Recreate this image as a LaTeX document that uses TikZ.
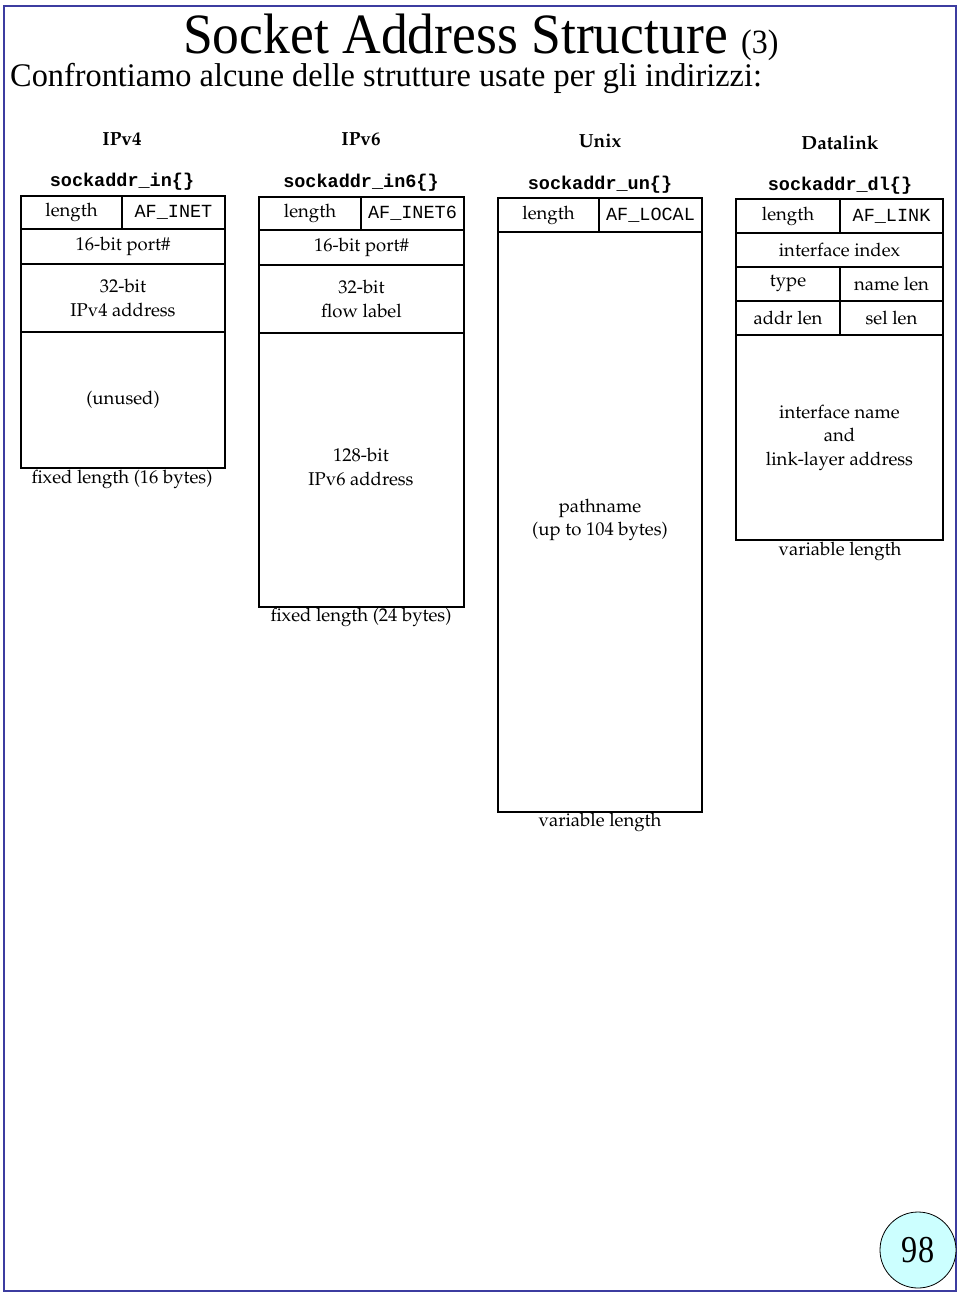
\documentclass[tikz,border=0pt]{standalone}
\usepackage[T1]{fontenc}
\usepackage{fontspec}
\setmainfont{Liberation Serif}
\newfontfamily\courfont{Liberation Mono}
\usepackage{graphicx}
\newcommand\palfont{\fontencoding{T1}\fontfamily{ppl}\selectfont}
\definecolor{framecol}{RGB}{60,60,160}
\definecolor{pagecirc}{RGB}{204,255,255}
\newcommand\mkcell[6]{%
  \pgfmathsetmacro\cellw{#4-#2}\pgfmathsetmacro\cellh{#5-#3}%
  \node[cell, minimum width=\cellw pt, minimum height=\cellh pt] (#1) at ({(#2+#4)/2},{(#3+#5)/2}) {#6};}
\begin{document}
\begin{tikzpicture}[x=1pt,y=-1pt,
  cell/.style={draw, line width=1.4pt, inner sep=0pt, outer sep=0pt, align=center,
    font=\palfont\fontsize{18.5}{23.5}\selectfont},
  txtlab/.style={inner sep=0pt, align=center, font=\palfont\fontsize{18.5}{23.5}\selectfont},
  headlab/.style={inner sep=0pt, font=\palfont\bfseries\fontsize{19}{23}\selectfont},
  structlab/.style={inner sep=0pt, font=\courfont\bfseries\fontsize{18.5}{22}\selectfont}]
\useasboundingbox (0,0) rectangle (960,1298);
\draw[framecol, line width=2pt] (4,6) rectangle (956,1291);
% title
\node[inner sep=0pt, anchor=base west] (title) at (183,53)
  {\scalebox{0.94}[1]{\fontsize{57}{60}\selectfont Socket Address Structure \fontsize{34}{36}\selectfont(3)}};
\node[inner sep=0pt, anchor=base west] (subtitle) at (10,86)
  {\scalebox{0.98}[1]{\fontsize{33}{36}\selectfont Confrontiamo alcune delle strutture usate per gli indirizzi:}};
% headers
\node[headlab] (h4) at (122,139) {IPv4};
\node[headlab] (h6) at (361,139) {IPv6};
\node[headlab] (hu) at (600,141) {Unix};
\node[headlab] (hd) at (840,143) {Datalink};
\node[structlab] (s4) at (122,182) {sockaddr\_in\{\}};
\node[structlab] (s6) at (361,183) {sockaddr\_in6\{\}};
\node[structlab] (su) at (600,185) {sockaddr\_un\{\}};
\node[structlab] (sd) at (840,186) {sockaddr\_dl\{\}};
% IPv4
\mkcell{a1}{21}{196}{122}{229}{length}
\mkcell{a2}{122}{196}{225}{229}{\courfont\fontsize{18.5}{22}\selectfont AF\_INET}
\mkcell{a3}{21}{229}{225}{264}{16-bit port\#}
\mkcell{a4}{21}{264}{225}{332}{32-bit\\IPv4 address}
\mkcell{a5}{21}{332}{225}{468}{(unused)}
\node[txtlab] (la) at (122,479) {fixed length (16 bytes)};
% IPv6
\mkcell{b1}{259}{197}{361}{230}{length}
\mkcell{b2}{361}{197}{464}{230}{\courfont\fontsize{18.5}{22}\selectfont AF\_INET6}
\mkcell{b3}{259}{230}{464}{265}{16-bit port\#}
\mkcell{b4}{259}{265}{464}{333}{32-bit\\flow label}
\mkcell{b5}{259}{333}{464}{607}{}
\node[txtlab] (b5t) at (361,467) {128-bit\\IPv6 address};
\node[txtlab] (lb) at (361,617) {fixed length (24 bytes)};
% Unix
\mkcell{c1}{498}{198}{599}{232}{length}
\mkcell{c2}{599}{198}{702}{232}{\courfont\fontsize{18.5}{22}\selectfont AF\_LOCAL}
\mkcell{c3}{498}{232}{702}{812}{}
\node[txtlab] (c3t) at (600,520) {pathname\\(up to 104 bytes)};
\node[txtlab] (lc) at (600,822) {variable length};
% Datalink
\mkcell{d1}{736}{199}{840}{233}{length}
\mkcell{d2}{840}{199}{943}{233}{\courfont\fontsize{18.5}{22}\selectfont AF\_LINK}
\mkcell{d3}{736}{233}{943}{267}{interface index}
\mkcell{d4}{736}{267}{840}{301}{type}
\mkcell{d5}{840}{267}{943}{301}{name len}
\mkcell{d6}{736}{301}{840}{335}{addr len}
\mkcell{d7}{840}{301}{943}{335}{sel len}
\mkcell{d8}{736}{335}{943}{540}{interface name\\and\\link-layer address}
\node[txtlab] (ld) at (840,551) {variable length};
% page number
\node[circle, draw, fill=pagecirc, line width=0.8pt, minimum size=76pt, inner sep=0pt,
  font=\fontsize{38}{40}\selectfont] (page) at (918,1250) {\scalebox{0.85}[1]{98}};
\end{tikzpicture}
\end{document}
